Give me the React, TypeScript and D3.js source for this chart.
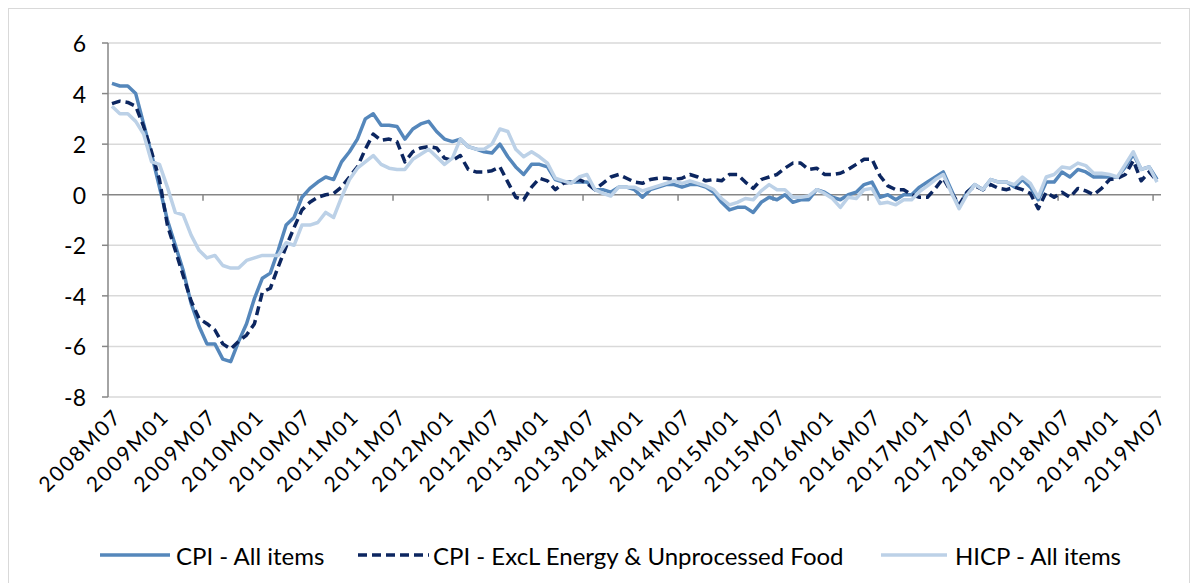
import React from "react";
import * as d3 from "d3";

// Categories: monthly, 2008M07 .. 2019M07
const months: string[] = (() => {
  const out: string[] = [];
  let y = 2008, m = 7;
  while (y < 2019 || (y === 2019 && m <= 7)) {
    out.push(`${y}M${String(m).padStart(2, "0")}`);
    m++;
    if (m > 12) { m = 1; y++; }
  }
  return out;
})();

const yTicks = [-8, -6, -4, -2, 0, 2, 4, 6];

// CPI - All items (annual % change)
const cpiAll = [
  4.4, 4.3, 4.3, 4.0, 2.8, 1.6, 0.3, -1.0, -2.0, -3.0, -4.3, -5.2,
  -5.9, -5.9, -6.5, -6.6, -5.8, -5.1, -4.1, -3.3, -3.1, -2.2, -1.2, -0.9,
  -0.1, 0.25, 0.5, 0.7, 0.6, 1.3, 1.7, 2.2, 3.0, 3.2, 2.75, 2.75,
  2.7, 2.2, 2.6, 2.8, 2.9, 2.5, 2.2, 2.1, 2.2, 1.9, 1.8, 1.7,
  1.65, 2.0, 1.5, 1.1, 0.8, 1.2, 1.2, 1.1, 0.6, 0.5, 0.5, 0.5,
  0.5, 0.2, 0.2, 0.1, 0.3, 0.3, 0.2, -0.1, 0.2, 0.3, 0.4, 0.4,
  0.3, 0.4, 0.4, 0.3, 0.1, -0.3, -0.6, -0.5, -0.5, -0.7, -0.3, -0.1,
  -0.2, 0.0, -0.3, -0.2, -0.2, 0.2, 0.1, -0.1, -0.2, 0.0, 0.1, 0.4,
  0.5, -0.1, 0.0, -0.2, 0.0, 0.0, 0.3, 0.5, 0.7, 0.9, 0.2, -0.5,
  0.1, 0.4, 0.2, 0.6, 0.5, 0.5, 0.3, 0.6, 0.3, -0.2, 0.5, 0.5,
  0.9, 0.7, 1.0, 0.9, 0.7, 0.7, 0.7, 0.7, 1.1, 1.6, 1.0, 1.1,
  0.6,
];

// CPI - Excl. Energy & Unprocessed Food
const cpiCore = [
  3.6, 3.7, 3.65, 3.5, 2.7, 1.7, 0.6, -1.2, -2.2, -3.2, -4.2, -4.9,
  -5.1, -5.35, -5.9, -6.1, -5.8, -5.55, -5.1, -3.85, -3.7, -2.85, -2.05, -1.3,
  -0.6, -0.3, -0.1, 0.0, 0.05, 0.3, 0.7, 1.1, 1.8, 2.4, 2.15, 2.2,
  2.1, 1.3, 1.7, 1.85, 1.9, 1.85, 1.45, 1.35, 1.55, 1.0, 0.9, 0.9,
  0.95, 1.1, 0.5, -0.1, -0.2, 0.3, 0.65, 0.55, 0.2, 0.45, 0.5, 0.6,
  0.45, 0.2, 0.45, 0.7, 0.8, 0.65, 0.5, 0.45, 0.6, 0.65, 0.65, 0.6,
  0.65, 0.8, 0.7, 0.55, 0.6, 0.55, 0.8, 0.8, 0.5, 0.25, 0.6, 0.7,
  0.8, 1.05, 1.25, 1.25, 1.0, 1.05, 0.8, 0.8, 0.85, 1.0, 1.2, 1.4,
  1.4, 0.75, 0.35, 0.2, 0.2, 0.0, -0.1, -0.1, 0.25, 0.65, 0.1, -0.4,
  0.1, 0.35, 0.2, 0.4, 0.25, 0.2, 0.3, 0.2, 0.05, -0.55, 0.1, -0.1,
  0.1, -0.1, 0.25, 0.15, 0.0, 0.25, 0.6, 0.65, 0.8, 1.35, 0.55, 0.9,
  0.55,
];

// HICP - All items
const hicpAll = [
  3.5, 3.2, 3.2, 2.9, 2.4, 1.3, 1.2, 0.3, -0.7, -0.8, -1.6, -2.2,
  -2.5, -2.4, -2.8, -2.9, -2.9, -2.6, -2.5, -2.4, -2.4, -2.4, -1.9, -2.0,
  -1.2, -1.2, -1.1, -0.7, -0.9, -0.1, 0.6, 1.05, 1.3, 1.55, 1.2, 1.05,
  1.0, 1.0, 1.4, 1.6, 1.8, 1.5, 1.2, 1.45, 2.2, 1.9, 1.8, 1.8,
  2.0, 2.6, 2.5, 1.8, 1.5, 1.7, 1.5, 1.25, 0.65, 0.55, 0.45, 0.7,
  0.8, 0.2, 0.05, -0.05, 0.3, 0.3, 0.3, 0.15, 0.25, 0.35, 0.45, 0.55,
  0.45, 0.55, 0.45, 0.35, 0.2, -0.15, -0.4, -0.3, -0.15, -0.2, 0.15, 0.4,
  0.2, 0.2, -0.1, -0.1, -0.05, 0.2, 0.05, -0.15, -0.5, -0.1, -0.15, 0.2,
  0.25, -0.35, -0.3, -0.4, -0.2, -0.2, 0.12, 0.35, 0.6, 0.8, 0.1, -0.55,
  0.0, 0.4, 0.2, 0.6, 0.5, 0.5, 0.4, 0.7, 0.45, -0.1, 0.7, 0.8,
  1.1, 1.05, 1.25, 1.15, 0.85, 0.85, 0.8, 0.7, 1.2, 1.7, 1.0, 1.1,
  0.5,
];

const seriesNames = ["CPI - All items", "CPI - ExcL Energy & Unprocessed Food", "HICP - All items"];
const seriesValues = [cpiAll, cpiCore, hicpAll];
const seriesColors = ["#5587bb", "#0c2660", "#bcd1e7"];
const seriesDash = [null, "9 5", null];

const W = 1198;
const H = 583;
const FONT = "Lato, 'Open Sans', sans-serif";

export default function App() {
  const plotL = 108, plotR = 1161, plotT = 43, plotB = 397;
  const x = d3.scaleBand<string>().domain(months).range([plotL, plotR]).padding(0);
  const bw = x.bandwidth();
  const cx = (i: number) => (x(months[i]) as number) + bw / 2;
  const y = d3.scaleLinear().domain([-8, 6]).range([plotB, plotT]);
  const y0 = y(0);

  const line = (vals: number[]) =>
    d3.line<number>().x((_, i) => cx(i)).y((d) => y(d))(vals) || "";

  const tickIdx = months.map((_, i) => i).filter((i) => i > 0 && i % 12 === 0);
  const labelIdx = months.map((_, i) => i).filter((i) => i % 6 === 0);

  const legendItems = [
    { x1: 100, x2: 170, tx: 176 },
    { x1: 358, x2: 429, tx: 433 },
    { x1: 881, x2: 947, tx: 955 },
  ];
  const legendY = 555;

  return (
    <svg
      width={W}
      height={H}
      style={{ position: "absolute", left: 0, top: 0, background: "#fff" }}
      fontFamily={FONT}
    >
      <rect x={8.5} y={8.5} width={1181} height={620} fill="#fff" stroke="#d9d9d9" strokeWidth={1} />
      {/* gridlines */}
      {yTicks.filter((t) => t !== 0).map((t) => (
        <line key={t} x1={plotL} x2={plotR} y1={y(t)} y2={y(t)} stroke="#d9d9d9" strokeWidth={1.5} />
      ))}
      {/* y axis */}
      <line x1={plotL} x2={plotL} y1={plotT} y2={plotB} stroke="#868686" strokeWidth={1.5} />
      {yTicks.map((t) => (
        <g key={t}>
          <line x1={plotL - 6} x2={plotL} y1={y(t)} y2={y(t)} stroke="#868686" strokeWidth={1.5} />
          <text x={86} y={y(t)} textAnchor="end" dominantBaseline="central" fontSize={23} fill="#000">
            {t}
          </text>
        </g>
      ))}
      {/* x axis at zero */}
      <line x1={plotL} x2={plotR} y1={y0} y2={y0} stroke="#868686" strokeWidth={1.5} />
      {tickIdx.map((i) => (
        <line key={i} x1={x(months[i])} x2={x(months[i])} y1={y0} y2={y0 + 6} stroke="#868686" strokeWidth={1.5} />
      ))}
      {/* series */}
      {seriesValues.map((vals, s) => (
        <path
          key={s}
          d={line(vals)}
          fill="none"
          stroke={seriesColors[s]}
          strokeWidth={3.5}
          strokeLinejoin="round"
          strokeDasharray={seriesDash[s] || undefined}
        />
      ))}
      {/* x labels */}
      {labelIdx.map((i) => (
        <text
          key={i}
          transform={`translate(${cx(i) + 5},${412}) rotate(-45)`}
          textAnchor="end"
          dominantBaseline="central"
          fontSize={21}
          letterSpacing={2}
          fill="#000"
        >
          {months[i]}
        </text>
      ))}
      {/* legend */}
      {legendItems.map((it, s) => (
        <g key={s}>
          <line
            x1={it.x1}
            x2={it.x2}
            y1={legendY}
            y2={legendY}
            stroke={seriesColors[s]}
            strokeWidth={3.5}
            strokeDasharray={seriesDash[s] || undefined}
          />
          <text x={it.tx} y={legendY} dominantBaseline="central" fontSize={24} fill="#000">
            {seriesNames[s]}
          </text>
        </g>
      ))}
    </svg>
  );
}
